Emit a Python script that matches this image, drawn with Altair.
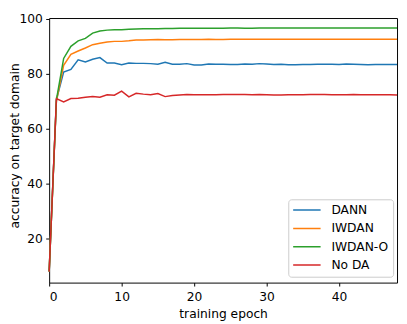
import altair as alt
import pandas as pd

epochs = list(range(49))

dann = [8.0, 70.5, 80.6, 81.6, 85.1, 84.3, 85.3, 85.9, 83.9, 83.9,
        83.3, 83.9, 83.8, 83.8, 83.7, 83.5, 84.2, 83.5, 83.5, 83.7,
        83.2, 83.2, 83.6, 83.5, 83.5, 83.4, 83.4, 83.6, 83.5, 83.7,
        83.6, 83.4, 83.5, 83.3, 83.3, 83.4, 83.4, 83.5, 83.5, 83.5,
        83.4, 83.6, 83.5, 83.4, 83.3, 83.4, 83.4, 83.4, 83.4]
iwdan = [8.0, 70.0, 83.1, 87.1, 88.3, 89.4, 90.6, 91.1, 91.6, 91.8,
         91.8, 92.0, 92.3, 92.3, 92.4, 92.5, 92.4, 92.4, 92.5, 92.5,
         92.5, 92.5, 92.6, 92.5, 92.5, 92.6, 92.6, 92.6, 92.6, 92.6,
         92.6, 92.6, 92.6, 92.6, 92.6, 92.6, 92.6, 92.6, 92.6, 92.6,
         92.6, 92.6, 92.6, 92.6, 92.6, 92.6, 92.6, 92.6, 92.6]
iwdan_o = [8.0, 70.5, 85.6, 90.0, 92.0, 92.9, 94.8, 95.6, 95.9, 96.0,
           96.0, 96.2, 96.3, 96.4, 96.4, 96.4, 96.5, 96.5, 96.6, 96.6,
           96.6, 96.6, 96.6, 96.6, 96.6, 96.7, 96.7, 96.6, 96.6, 96.7,
           96.7, 96.7, 96.7, 96.7, 96.7, 96.7, 96.7, 96.7, 96.7, 96.7,
           96.7, 96.7, 96.7, 96.7, 96.7, 96.7, 96.7, 96.7, 96.7]
no_da = [8.0, 71.0, 69.8, 71.0, 71.1, 71.5, 71.7, 71.5, 72.4, 72.2,
         73.7, 71.6, 72.9, 72.6, 72.4, 72.8, 71.7, 72.1, 72.3, 72.5,
         72.4, 72.4, 72.4, 72.4, 72.5, 72.5, 72.5, 72.5, 72.4, 72.5,
         72.4, 72.3, 72.3, 72.4, 72.4, 72.4, 72.5, 72.5, 72.5, 72.4,
         72.4, 72.4, 72.5, 72.4, 72.4, 72.4, 72.4, 72.4, 72.3]

series_names = ["DANN", "IWDAN", "IWDAN-O", "No DA"]
series_colors = ["#1f77b4", "#ff7f0e", "#2ca02c", "#d62728"]
x_ticks = [0, 10, 20, 30, 40]
y_ticks = [20, 40, 60, 80, 100]

rows = []
for name, vals in zip(series_names, [dann, iwdan, iwdan_o, no_da]):
    for e, v in zip(epochs, vals):
        rows.append({"epoch": e, "acc": v, "method": name})
df = pd.DataFrame(rows)

FONT = "DejaVu Sans"
PLOT_H = 270

chart = alt.Chart(df).mark_line(strokeWidth=1.5).encode(
    x=alt.X("epoch:Q",
            scale=alt.Scale(domain=[0, 48], nice=False, zero=False),
            axis=alt.Axis(title="training epoch", values=x_ticks, grid=False,
                          tickSize=3.5, tickColor="black", domain=False,
                          labelPadding=4.5, titlePadding=5, format="d")),
    y=alt.Y("acc:Q",
            scale=alt.Scale(domain=[4, 100.3], nice=False, zero=False),
            axis=alt.Axis(title="accuracy on target domain", values=y_ticks, grid=False,
                          tickSize=3.5, tickColor="black", domain=False,
                          labelPadding=3.5, titleX=-28, titleY=PLOT_H / 2 - 5,
                          format="d")),
    color=alt.Color("method:N",
                    scale=alt.Scale(domain=series_names, range=series_colors),
                    legend=alt.Legend(title=None, orient="none", legendX=244, legendY=185,
                                      symbolType="stroke", symbolSize=784,
                                      symbolStrokeWidth=1.5, labelOffset=10,
                                      padding=4, clipHeight=14, rowPadding=4.67,
                                      strokeColor="#cccccc", cornerRadius=3,
                                      fillColor="white")),
    order=alt.Order("epoch:Q"),
).properties(
    width=355, height=PLOT_H,
    autosize=alt.AutoSizeParams(type="none"),
    padding={"left": 42, "top": 7, "right": 2, "bottom": 39},
).configure_view(
    stroke="black", strokeWidth=1
).configure_axis(
    labelFont=FONT, titleFont=FONT, labelFontSize=12.5, titleFontSize=12.5,
    labelColor="black", titleColor="black", titleFontWeight="normal"
).configure_legend(
    labelFont=FONT, labelFontSize=12.5, labelColor="black"
)

chart.save("out.html", embed_options={"renderer": "svg", "actions": False})
